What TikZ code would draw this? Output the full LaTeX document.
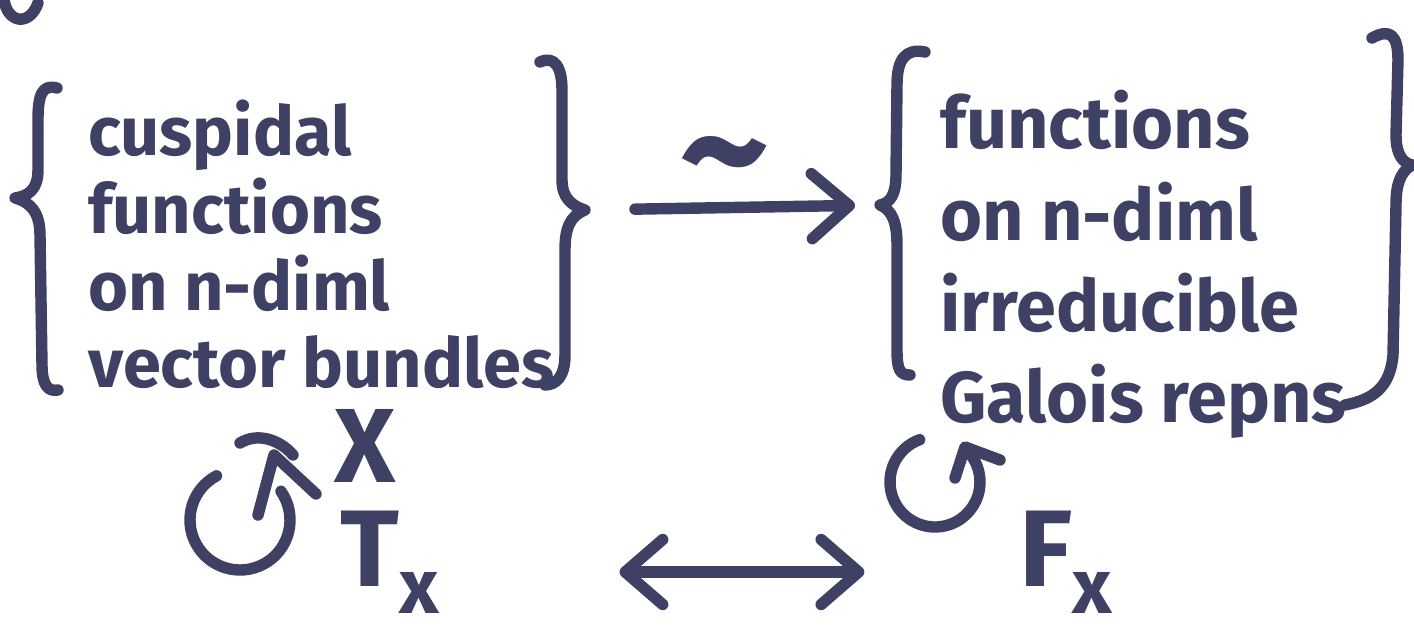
\documentclass[tikz,border=0pt]{standalone}
\usepackage{fontspec}
\setmainfont{Fira Sans}
\usetikzlibrary{arrows.meta}
\definecolor{ink}{RGB}{62,64,100}
\tikzset{barb/.tip={Straight Barb[length=0.75cm, width=1.3cm, line cap=round, line join=round]}}
\begin{document}
\begin{tikzpicture}[x=0.02cm,y=-0.02cm,
  pen/.style={draw=ink, line width=6.5pt, line cap=round, line join=round},
  handtext/.style={text=ink, inner sep=0pt, font=\bfseries\fontsize{39}{44}\selectfont},
  bigtext/.style={text=ink, inner sep=0pt, font=\bfseries\fontsize{62}{62}\selectfont}]
\useasboundingbox (0,0) rectangle (1414,632);
% partial stroke at the top-left corner
\draw[pen] (4,0) .. controls (8,24) and (30,26) .. (38,3);
% left group
\node[handtext, align=left, anchor=north west] (L) at (88,100)
  {cuspidal\\functions\\on n-diml\\vector bundles};
\draw[pen] (57,88) .. controls (42,84) and (38,95) .. (38,120) -- (38,170)
  .. controls (38,190) and (28,196) .. (15,198)
  .. controls (30,202) and (40,212) .. (40,235) -- (42,365)
  .. controls (42,385) and (48,392) .. (58,390);
\draw[pen] (540,62) .. controls (555,55) and (562,68) .. (562,90) -- (562,180)
  .. controls (562,198) and (572,206) .. (585,210)
  .. controls (570,216) and (565,228) .. (565,250) -- (565,355)
  .. controls (565,378) and (555,385) .. (545,385);
\coordinate (lb) at (585,210);
% right group
\node[handtext, align=left, anchor=north west, font=\bfseries\fontsize{41}{52}\selectfont] (R) at (940,90)
  {functions\\on n-diml\\irreducible\\Galois repns};
\draw[pen] (925,52) .. controls (905,48) and (897,60) .. (897,85) -- (896,175)
  .. controls (896,195) and (890,203) .. (880,205)
  .. controls (892,210) and (897,222) .. (897,245) -- (897,350)
  .. controls (897,370) and (900,375) .. (910,375);
\draw[pen] (1372,38) .. controls (1390,28) and (1398,35) .. (1398,60) -- (1396,135)
  .. controls (1396,155) and (1403,163) .. (1412,165)
  .. controls (1400,172) and (1396,185) .. (1396,205) -- (1393,355)
  .. controls (1390,390) and (1370,400) .. (1345,405);
\coordinate (rb) at (880,205);
% main arrow
\draw[pen, -barb, shorten <=1cm, shorten >=0.5cm] (lb) -- (rb);
\node[bigtext, font=\bfseries\fontsize{100}{100}\selectfont] (tilde) at (725,172) {\textasciitilde};
% bottom left
\node[bigtext, font=\bfseries\fontsize{60}{60}\selectfont] (X) at (365,446) {X};
\node[bigtext] (Tx) at (390,562) {T\raisebox{-0.25em}{\fontsize{44}{44}\selectfont x}};
\draw[pen] (240,520) ++(242:50) arc[start angle=242, end angle=-35, radius=50];
\draw[pen] (258,515) -- (274,455) -- (316,494);
\draw[pen] (240,443) .. controls (258,432) and (280,440) .. (293,455);
% bottom right
\node[bigtext] (Fx) at (1066,562) {F\raisebox{-0.25em}{\fontsize{44}{44}\selectfont x}};
\draw[pen] (935,482) ++(250:45) arc[start angle=250, end angle=-37, radius=45];
\draw[pen] (955,478) -- (965,447) -- (1000,460);
% double arrow
\draw[pen, barb-barb, shorten <=3.6cm, shorten >=3.1cm] ([yshift=-0.2cm]Tx.east) -- ([yshift=-0.2cm]Fx.west);
\end{tikzpicture}
\end{document}
